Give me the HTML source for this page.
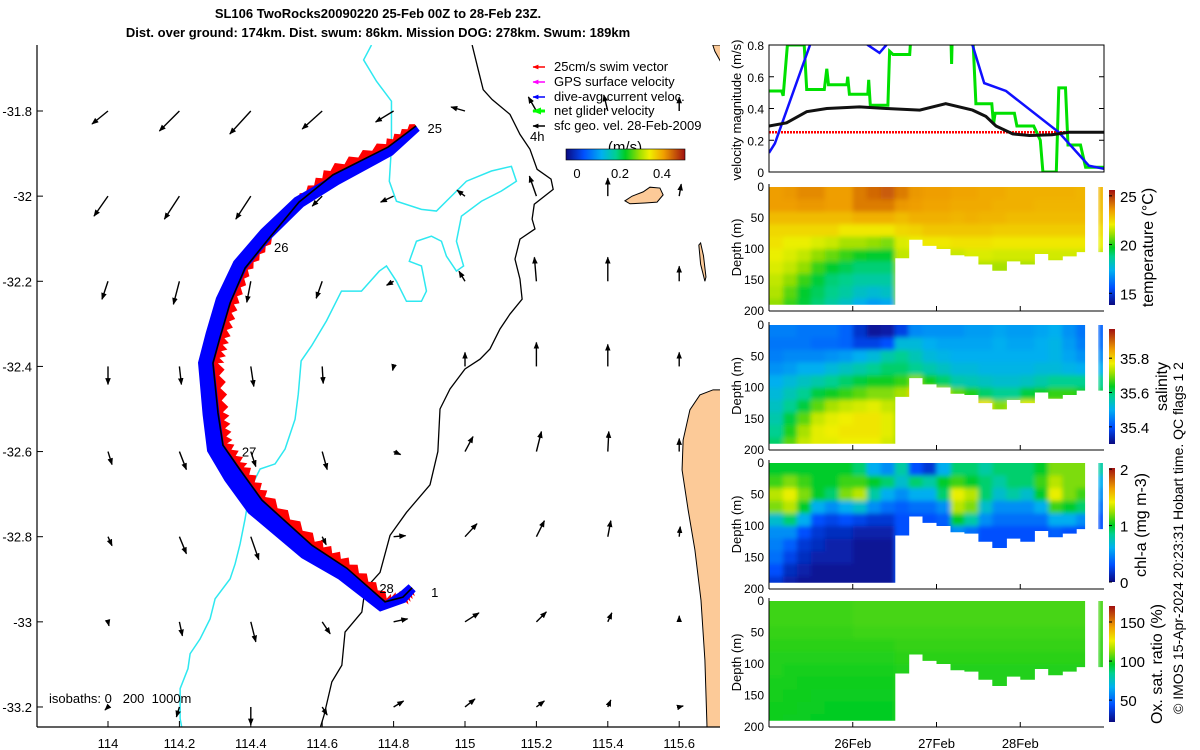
<!DOCTYPE html>
<html><head><meta charset="utf-8"><style>
html,body{margin:0;padding:0;background:#fff}
svg{display:block;font-family:"Liberation Sans",sans-serif}
</style></head><body>
<svg id="c" width="1200" height="750" viewBox="0 0 1200 750" xmlns="http://www.w3.org/2000/svg">
<defs>
<clipPath id="mapclip"><rect x="37" y="45" width="683" height="682"/></clipPath>
<clipPath id="velclip"><rect x="769" y="45" width="335" height="127"/></clipPath>
<filter id="soft" x="-5%" y="-5%" width="110%" height="110%"><feGaussianBlur stdDeviation="2.5"/></filter>
<marker id="ah" viewBox="0 0 10 10" refX="9" refY="5" markerWidth="5" markerHeight="5" orient="auto"><path d="M0,1 L10,5 L0,9 z" fill="#000"/></marker>
<marker id="ahr" viewBox="0 0 10 10" refX="9" refY="5" markerWidth="4" markerHeight="4" orient="auto-start-reverse"><path d="M0,1 L10,5 L0,9 z" fill="red"/></marker>
<marker id="ahm" viewBox="0 0 10 10" refX="9" refY="5" markerWidth="4" markerHeight="4" orient="auto-start-reverse"><path d="M0,1 L10,5 L0,9 z" fill="#f0f"/></marker>
<marker id="ahb" viewBox="0 0 10 10" refX="9" refY="5" markerWidth="4" markerHeight="4" orient="auto-start-reverse"><path d="M0,1 L10,5 L0,9 z" fill="#00f"/></marker>
<marker id="ahg" viewBox="0 0 10 10" refX="9" refY="5" markerWidth="3" markerHeight="3" orient="auto-start-reverse"><path d="M0,1 L10,5 L0,9 z" fill="#0f0"/></marker>
<marker id="ahk" viewBox="0 0 10 10" refX="9" refY="5" markerWidth="4" markerHeight="4" orient="auto-start-reverse"><path d="M0,1 L10,5 L0,9 z" fill="#000"/></marker>
<linearGradient id="cmapH" x1="0" x2="1" y1="0" y2="0">
<stop offset="0" stop-color="#0a0a80"/><stop offset="0.15" stop-color="#0050ff"/><stop offset="0.3" stop-color="#00b0f0"/><stop offset="0.42" stop-color="#00d090"/><stop offset="0.5" stop-color="#00cc22"/><stop offset="0.62" stop-color="#a0e000"/><stop offset="0.7" stop-color="#f0f000"/><stop offset="0.82" stop-color="#f0a000"/><stop offset="1" stop-color="#a01010"/></linearGradient>
<linearGradient id="cmapV" x1="0" x2="0" y1="1" y2="0">
<stop offset="0" stop-color="#0a0a80"/><stop offset="0.15" stop-color="#0050ff"/><stop offset="0.3" stop-color="#00b0f0"/><stop offset="0.42" stop-color="#00d090"/><stop offset="0.5" stop-color="#00cc22"/><stop offset="0.62" stop-color="#a0e000"/><stop offset="0.7" stop-color="#f0f000"/><stop offset="0.82" stop-color="#f0a000"/><stop offset="1" stop-color="#a01010"/></linearGradient>
</defs>

<text x="378" y="18" text-anchor="middle" font-size="13" font-weight="bold">SL106 TwoRocks20090220 25-Feb 00Z to 28-Feb 23Z.</text>
<text x="378" y="37" text-anchor="middle" font-size="13" font-weight="bold">Dist. over ground: 174km. Dist. swum: 86km. Mission DOG: 278km. Swum: 189km</text>

<g id="map" clip-path="url(#mapclip)"></g>
<g id="mapaxes"></g>
<g id="legend">
<line x1="545" y1="67" x2="533" y2="67" stroke="red" stroke-width="1.5" marker-end="url(#ahr)"/>
<text x="554" y="71" font-size="13">25cm/s swim vector</text>
<line x1="545" y1="82" x2="533" y2="82" stroke="#f0f" stroke-width="1.5" marker-end="url(#ahm)"/>
<text x="554" y="86" font-size="13">GPS surface velocity</text>
<line x1="545" y1="97" x2="533" y2="97" stroke="#00f" stroke-width="1.5" marker-end="url(#ahb)"/>
<text x="554" y="101" font-size="13">dive-avg current veloc.</text>
<line x1="545" y1="111" x2="533" y2="111" stroke="#0f0" stroke-width="3" marker-end="url(#ahg)"/>
<text x="554" y="115" font-size="13">net glider velocity</text>
<line x1="545" y1="126" x2="533" y2="126" stroke="#000" stroke-width="1.5" marker-end="url(#ahk)"/>
<text x="554" y="130" font-size="13">sfc geo. vel. 28-Feb-2009</text>
<text x="530" y="141" font-size="13">4h</text>
<text x="625" y="152" font-size="15" text-anchor="middle">(m/s)</text>
<rect x="566" y="149" width="119" height="11" fill="url(#cmapH)" stroke="#000" stroke-width="0.6"/>
<text x="577" y="178" font-size="13" text-anchor="middle">0</text>
<text x="620" y="178" font-size="13" text-anchor="middle">0.2</text>
<text x="662" y="178" font-size="13" text-anchor="middle">0.4</text>
</g>

<g id="vel"></g>
<g id="heat"></g>

<text transform="translate(1183,538) rotate(-90)" text-anchor="middle" font-size="14">© IMOS 15-Apr-2024 20:23:31 Hobart time. QC flags 1  2</text>
</svg>
<script>
// ---------------- DATA ----------------
const gridLons = [114.0,114.2,114.4,114.6,114.8,115.0,115.2,115.4,115.6];
const gridLats = [-31.8,-32.0,-32.2,-32.4,-32.6,-32.8,-33.0,-33.2];
const geoU = [
 [-0.16,-0.20,-0.21,-0.20,-0.18,-0.14,-0.08,-0.04,0.00],
 [-0.14,-0.15,-0.15,-0.10,-0.13,-0.08,-0.07,0.00,0.02],
 [-0.06,-0.06,-0.04,-0.06,-0.07,-0.06,-0.02,0.00,0.00],
 [0.00,0.02,0.03,0.01,-0.01,0.00,0.00,0.00,0.00],
 [0.04,0.07,0.05,0.05,0.07,0.08,0.05,0.01,0.00],
 [0.04,0.07,0.08,0.04,0.12,0.12,0.08,0.03,0.01],
 [0.01,0.03,0.05,0.08,0.14,0.14,0.10,0.04,0.00],
 [-0.03,-0.03,0.00,0.05,0.10,0.10,0.08,0.03,0.04]];
const geoV = [
 [-0.13,-0.20,-0.23,-0.18,-0.11,0.04,0.14,0.16,0.14],
 [-0.20,-0.23,-0.23,-0.10,-0.06,0.06,0.20,0.18,0.12],
 [-0.18,-0.23,-0.21,-0.17,-0.04,0.10,0.24,0.24,0.15],
 [-0.18,-0.18,-0.20,-0.17,-0.04,0.14,0.24,0.22,0.14],
 [-0.13,-0.18,-0.15,-0.18,-0.03,0.15,0.20,0.20,0.13],
 [-0.09,-0.17,-0.23,-0.08,0.01,0.13,0.16,0.16,0.10],
 [-0.04,-0.14,-0.20,-0.12,0.03,0.09,0.10,0.09,0.06],
 [-0.03,-0.10,-0.18,-0.08,0.06,0.08,0.06,0.07,0.01]];
const trackLon = [114.863,114.784,114.630,114.535,114.454,114.384,114.342,114.314,114.294,114.308,114.322,114.370,114.431,114.571,114.669,114.776,114.826,114.852];
const trackLat = [-31.835,-31.885,-31.950,-32.014,-32.096,-32.169,-32.251,-32.331,-32.392,-32.509,-32.585,-32.643,-32.714,-32.820,-32.874,-32.953,-32.942,-32.920];
const dayLabels = ["25","26","27","28","1"];
const dayLabelLon = [114.895,114.465,114.375,114.76,114.905];
const dayLabelLat = [-31.84,-32.12,-32.6,-32.92,-32.93];
const iso200Lon=[114.738,114.716,114.752,114.794,114.794,114.788,114.808,114.878,114.92,114.962,115.004,115.074,115.13,115.144,115.102,115.046,114.99,114.976,114.996,114.976,114.948,114.934,114.906,114.864,114.844,114.878,114.892,114.878,114.836,114.808,114.78,114.76,114.71,114.654,114.612,114.57,114.541,114.533,114.524,114.496,114.468,114.426,114.398,114.384,114.37,114.356,114.342,114.3,114.286,114.258,114.23,114.224,114.202,114.202,114.207];
const iso200Lat=[-31.645,-31.68,-31.73,-31.777,-31.883,-31.965,-32.012,-32.031,-32.035,-32.0,-31.965,-31.941,-31.93,-31.965,-31.988,-32.012,-32.047,-32.106,-32.164,-32.176,-32.141,-32.106,-32.094,-32.106,-32.153,-32.164,-32.223,-32.247,-32.247,-32.2,-32.164,-32.176,-32.223,-32.223,-32.293,-32.352,-32.387,-32.465,-32.524,-32.594,-32.629,-32.641,-32.688,-32.758,-32.817,-32.864,-32.899,-32.946,-32.993,-33.04,-33.075,-33.11,-33.157,-33.227,-33.25];
const iso1000Lon=[115.02,115.037,115.051,115.076,115.126,115.154,115.182,115.202,115.241,115.247,115.194,115.188,115.196,115.154,115.14,115.154,115.16,115.126,115.098,115.07,115.042,115.0,114.958,114.93,114.924,114.902,114.836,114.79,114.762,114.72,114.711,114.664,114.655,114.627,114.605,114.594];
const iso1000Lat=[-31.645,-31.703,-31.75,-31.773,-31.808,-31.855,-31.89,-31.937,-31.96,-31.984,-32.019,-32.054,-32.077,-32.101,-32.148,-32.195,-32.242,-32.277,-32.312,-32.359,-32.383,-32.406,-32.453,-32.5,-32.6,-32.678,-32.743,-32.797,-32.884,-32.923,-32.977,-33.024,-33.102,-33.141,-33.22,-33.25];
const landMainLon=[115.75,115.695,115.658,115.630,115.611,115.608,115.625,115.644,115.661,115.672,115.678,115.75];
const landMainLat=[-32.455,-32.455,-32.467,-32.502,-32.573,-32.643,-32.737,-32.831,-32.949,-33.090,-33.25,-33.25];
const islandLon=[115.448,115.468,115.499,115.518,115.546,115.555,115.538,115.504,115.462];
const islandLat=[-32.011,-32.000,-31.990,-31.979,-31.981,-31.997,-32.014,-32.016,-32.018];
const islandNLon=[115.694,115.70,115.72,115.75,115.75,115.714,115.70];
const islandNLat=[-31.645,-31.66,-31.69,-31.71,-31.645,-31.645,-31.645];
const islandRLon=[115.655,115.66,115.668,115.675,115.672,115.66];
const islandRLat=[-32.115,-32.11,-32.14,-32.19,-32.2,-32.16];
const mapLatTicks=[-31.8,-32,-32.2,-32.4,-32.6,-32.8,-33,-33.2];
const mapLatTickLabels=["-31.8","-32","-32.2","-32.4","-32.6","-32.8","-33","-33.2"];
const mapLonTicks=[114,114.2,114.4,114.6,114.8,115,115.2,115.4,115.6];
const mapLonTickLabels=["114","114.2","114.4","114.6","114.8","115","115.2","115.4","115.6"];

const swimT=[0,4]; const swimV=[0.25,0.25];
const geoT=[0,0.21,0.45,0.69,1.08,1.40,1.80,2.11,2.43,2.59,2.71,2.91,3.11,3.38,3.58,4.0];
const geoVmag=[0.29,0.31,0.38,0.40,0.41,0.40,0.39,0.43,0.39,0.35,0.29,0.24,0.23,0.235,0.25,0.25];
const curT=[0,0.07,0.49,0.8,1.18,1.32,1.40,1.8,2.43,2.57,2.83,3.46,3.82,4.0];
const curV=[0.12,0.18,0.80,1.0,0.8,0.75,0.80,1.0,0.80,0.56,0.51,0.25,0.04,0.02];
const netT=[0,0.15,0.17,0.22,0.42,0.45,0.66,0.69,0.71,0.93,0.94,0.96,1.18,1.19,1.21,1.42,1.44,1.48,1.68,1.70,2.17,2.18,2.19,2.43,2.47,2.66,2.68,2.70,2.93,2.96,3.16,3.24,3.27,3.43,3.46,3.54,3.57,3.72,3.78,4.0];
const netV=[0.51,0.51,0.48,0.80,0.80,0.52,0.52,0.65,0.55,0.55,0.60,0.49,0.49,0.58,0.42,0.42,0.76,0.74,0.74,0.90,0.90,0.68,0.90,0.90,0.43,0.43,0.30,0.37,0.37,0.29,0.29,0.20,0.0,0.0,0.53,0.53,0.17,0.17,0.03,0.03];
const velTicks=[0,0.2,0.4,0.6,0.8];
const velTickLabels=["0","0.2","0.4","0.6","0.8"];

const colStart=[0,0.1667,0.3333,0.5,0.6667,0.8333,1.0,1.1667,1.3333,1.5,1.6667,1.8333,2.0,2.1667,2.3333,2.5,2.6667,2.8333,3.0,3.1667,3.3333,3.5,3.6667,3.93];
const colWidth=[0.1667,0.1667,0.1667,0.1667,0.1667,0.1667,0.1667,0.1667,0.1667,0.1667,0.1667,0.1667,0.1667,0.1667,0.1667,0.1667,0.1667,0.1667,0.1667,0.1667,0.1667,0.1667,0.1,0.05];
const colMaxDepth=[190,190,190,190,190,190,190,190,190,115,85,95,100,110,112,125,135,120,125,108,118,112,105,105];
const depthRows=[0,20,40,60,80,100,120,140,160,180];
const tempGrid=[
[23.5,23.5,23,22.5,22.3,22,21.8,21.5,21.3,21],
[23.6,23.5,23,22.5,22,21.8,21.5,21,20.5,20.2],
[23.8,23.6,23,22.5,22,21.5,21,20.2,19.6,19.5],
[23.8,23.6,23,22.5,21.8,21,20.2,19.5,19.2,19],
[23.5,23.5,23,22.5,21.6,20.6,19.6,19,18.8,18.5],
[23.5,23.5,23,22.2,21.2,20.2,19.3,18.8,18.5,18],
[24,24,23.2,22.2,21.2,19.8,19,18.5,18,17.4],
[24.3,24,23.2,22.2,21,19.6,19,18.5,17.8,17],
[24.5,24,23.2,22.2,20.8,19.6,19,18.5,18,17.2],
[24,23.6,23,22.5,21.8,21.5,21,21,21,21],
[23.6,23.5,23.2,22.6,22,21.6,21,21,21,21],
[23.5,23.4,23.2,22.8,22.2,21.6,21,21,21,21],
[23.5,23.4,23.2,22.8,22.2,21.6,21.2,21,21,21],
[23.4,23.3,23.1,22.8,22.3,21.6,21.2,21,21,21],
[23.4,23.3,23.2,22.8,22.3,21.8,21.3,21,21,21],
[23.3,23.3,23.1,22.8,22.3,21.8,21.3,21,21,21],
[23.3,23.2,23.1,22.7,22.2,21.7,21.2,21,21,21],
[23.2,23.2,23,22.7,22.2,21.7,21.2,21,21,21],
[23.2,23.2,23,22.7,22.2,21.7,21.2,21,21,21],
[23.2,23.1,23,22.7,22.2,21.7,21.2,21,21,21],
[23.2,23.1,23,22.7,22.2,21.7,21.2,21,21,21],
[23.2,23.1,23,22.7,22.2,21.7,21.2,21,21,21],
[23.1,23.1,23,22.7,22.2,21.7,21.2,21,21,21],
[23.1,23,22.8,22.4,22,21.5,21,21,21,21]];
const salGrid=[
[35.45,35.44,35.45,35.47,35.50,35.52,35.54,35.56,35.58,35.60],
[35.45,35.44,35.46,35.48,35.52,35.55,35.58,35.62,35.65,35.68],
[35.44,35.44,35.46,35.50,35.54,35.58,35.62,35.68,35.72,35.74],
[35.44,35.43,35.46,35.50,35.56,35.62,35.68,35.74,35.76,35.76],
[35.44,35.43,35.47,35.52,35.58,35.64,35.72,35.76,35.77,35.76],
[35.42,35.42,35.48,35.54,35.60,35.66,35.74,35.77,35.78,35.77],
[35.36,35.38,35.50,35.56,35.62,35.68,35.75,35.78,35.78,35.77],
[35.32,35.38,35.52,35.58,35.64,35.70,35.76,35.78,35.78,35.77],
[35.33,35.40,35.56,35.60,35.64,35.70,35.74,35.76,35.76,35.75],
[35.38,35.52,35.58,35.60,35.66,35.72,35.72,35.72,35.72,35.72],
[35.46,35.52,35.55,35.58,35.70,35.80,35.8,35.8,35.8,35.8],
[35.47,35.50,35.52,35.56,35.64,35.78,35.8,35.8,35.8,35.8],
[35.47,35.49,35.51,35.54,35.60,35.74,35.8,35.8,35.8,35.8],
[35.47,35.49,35.50,35.52,35.56,35.68,35.82,35.8,35.8,35.8],
[35.48,35.49,35.50,35.52,35.55,35.65,35.80,35.8,35.8,35.8],
[35.48,35.49,35.50,35.51,35.54,35.60,35.78,35.85,35.8,35.8],
[35.49,35.50,35.50,35.51,35.53,35.58,35.70,35.85,35.8,35.8],
[35.48,35.49,35.50,35.51,35.53,35.58,35.72,35.8,35.8,35.8],
[35.48,35.49,35.50,35.51,35.54,35.62,35.76,35.8,35.8,35.8],
[35.49,35.50,35.50,35.52,35.56,35.64,35.74,35.8,35.8,35.8],
[35.50,35.51,35.51,35.52,35.58,35.66,35.72,35.8,35.8,35.8],
[35.47,35.48,35.49,35.51,35.58,35.66,35.70,35.8,35.8,35.8],
[35.44,35.45,35.47,35.50,35.58,35.64,35.70,35.8,35.8,35.8],
[35.42,35.43,35.46,35.50,35.58,35.62,35.7,35.7,35.7,35.7]];
const chlGrid=[
[1.0,1.1,1.3,1.2,0.7,0.5,0.45,0.4,0.3,0.2],
[1.0,1.2,1.4,1.3,0.9,0.5,0.35,0.25,0.15,0.1],
[1.0,1.1,1.2,1.0,0.6,0.3,0.2,0.15,0.1,0.05],
[1.0,1.0,1.0,0.6,0.3,0.2,0.15,0.1,0.05,0.05],
[1.0,1.0,0.9,0.5,0.25,0.15,0.1,0.1,0.05,0.05],
[1.0,1.1,1.2,0.6,0.3,0.15,0.1,0.1,0.05,0.05],
[0.9,1.1,1.3,0.7,0.25,0.1,0.05,0.05,0.05,0.05],
[0.6,1.0,0.8,0.5,0.2,0.1,0.05,0.05,0.05,0.05],
[0.5,0.9,0.6,0.4,0.2,0.1,0.05,0.05,0.05,0.05],
[0.8,0.7,0.5,0.35,0.3,0.3,0.3,0.3,0.3,0.3],
[0.3,0.9,0.6,0.4,0.3,0.3,0.3,0.3,0.3,0.3],
[0.2,0.8,0.6,0.4,0.3,0.3,0.3,0.3,0.3,0.3],
[0.6,1.0,0.9,0.5,0.35,0.3,0.3,0.3,0.3,0.3],
[0.9,1.1,1.4,1.3,1.0,0.5,0.4,0.4,0.4,0.4],
[0.9,1.0,1.3,1.2,0.8,0.4,0.35,0.3,0.3,0.3],
[0.8,0.9,0.9,0.7,0.5,0.3,0.3,0.3,0.3,0.3],
[0.9,0.8,0.7,0.5,0.4,0.3,0.3,0.3,0.3,0.3],
[0.9,0.9,0.8,0.5,0.4,0.3,0.3,0.3,0.3,0.3],
[0.9,0.9,0.7,0.5,0.4,0.3,0.3,0.3,0.3,0.3],
[1.0,1.1,1.0,0.6,0.4,0.3,0.3,0.3,0.3,0.3],
[1.2,1.3,1.4,1.1,0.6,0.35,0.3,0.3,0.3,0.3],
[1.2,1.2,1.2,1.0,0.6,0.3,0.3,0.3,0.3,0.3],
[1.2,1.2,1.1,0.9,0.5,0.3,0.3,0.3,0.3,0.3],
[0.8,0.6,0.5,0.4,0.3,0.3,0.3,0.3,0.3,0.3]];
const oxyGrid=[
[103,103,102,101,100,100,99,99,98,98],[103,103,102,101,100,99,99,98,98,97],[103,103,102,101,100,99,98,98,97,97],
[103,103,102,101,100,99,98,97,97,96],[103,103,102,101,100,99,98,97,96,96],[103,103,102,101,100,99,98,97,96,96],
[104,104,103,101,100,99,98,97,96,96],[104,104,103,101,100,99,98,97,96,96],[104,104,103,101,100,99,98,97,96,96],
[104,104,103,102,101,100,100,100,100,100],[104,104,103,102,101,100,100,100,100,100],[104,104,103,102,101,100,100,100,100,100],
[104,104,103,102,101,100,100,100,100,100],[104,104,103,102,101,100,100,100,100,100],[104,104,103,102,101,100,100,100,100,100],
[104,104,103,102,101,100,100,100,100,100],[104,104,103,102,101,100,100,100,100,100],[104,104,103,102,101,100,100,100,100,100],
[104,104,103,102,101,100,100,100,100,100],[104,104,103,102,101,100,100,100,100,100],[104,104,103,102,101,100,100,100,100,100],
[104,104,103,102,101,100,100,100,100,100],[104,104,103,102,101,100,100,100,100,100],[104,104,103,102,101,100,100,100,100,100]];
const depthTicks=[0,50,100,150,200];
const depthTickLabels=["0","50","100","150","200"];
const dateTicks=[1,2,3];
const dateTickLabels=["26Feb","27Feb","28Feb"];
const tempCbTicks=[15,20,25]; const salCbTicks=[35.4,35.6,35.8]; const chlCbTicks=[0,1,2]; const oxyCbTicks=[50,100,150];

// ---------------- DRAW ----------------
const NS="http://www.w3.org/2000/svg";
function mk(tag,attrs,parent){const e=document.createElementNS(NS,tag);for(const k in attrs)e.setAttribute(k,attrs[k]);parent.appendChild(e);return e;}
const lonX=lon=>108+(lon-114)*357;
const latY=lat=>111+(-31.8-lat)*425.7;
const stops=[[0,[10,10,128]],[0.15,[0,80,255]],[0.3,[0,176,240]],[0.42,[0,208,144]],[0.5,[0,204,34]],[0.62,[160,224,0]],[0.7,[240,240,0]],[0.82,[240,160,0]],[1,[160,16,16]]];
function cmap(t){t=Math.max(0,Math.min(1,t));for(let i=1;i<stops.length;i++){if(t<=stops[i][0]){const a=stops[i-1],b=stops[i];const f=(t-a[0])/(b[0]-a[0]);const c=a[1].map((v,k)=>Math.round(v+(b[1][k]-v)*f));return `rgb(${c[0]},${c[1]},${c[2]})`;}}return "rgb(160,16,16)";}

const map=document.getElementById('map');
[[landMainLon,landMainLat,'land-mainland'],[islandLon,islandLat,'land-island'],[islandNLon,islandNLat,'land-island-north'],[islandRLon,islandRLat,'land-island-reef']].forEach(([lo,la,nm])=>{
 const p=mk('polygon',{points:lo.map((v,i)=>lonX(v)+','+latY(la[i])).join(' '),fill:'#fcca98',stroke:'#000','stroke-width':1},map);
 
 
});
const i2=mk('polyline',{points:iso200Lon.map((v,i)=>lonX(v)+','+latY(iso200Lat[i])).join(' '),fill:'none',stroke:'#2ee8f0','stroke-width':1.5},map);


const i1=mk('polyline',{points:iso1000Lon.map((v,i)=>lonX(v)+','+latY(iso1000Lat[i])).join(' '),fill:'none',stroke:'#000','stroke-width':1.3},map);


const SC=100;
gridLats.forEach((la,r)=>gridLons.forEach((lo,c)=>{
 const x=lonX(lo),y=latY(la);const dx=geoU[r][c]*SC,dy=-geoV[r][c]*SC;
 if(Math.hypot(dx,dy)<1)return;
 const a=mk('line',{x1:x,y1:y,x2:x+dx,y2:y+dy,stroke:'#000','stroke-width':1.4,'marker-end':'url(#ah)'},map);
 
 
}));
const TP=trackLon.map((v,i)=>[lonX(v),latY(trackLat[i])]);
const norms=TP.map((p,i)=>{const a=TP[Math.max(0,i-1)],b=TP[Math.min(TP.length-1,i+1)];const dx=b[0]-a[0],dy=b[1]-a[1];const L=Math.hypot(dx,dy)||1;return [-dy/L,dx/L];});
const blueOff=[-3,-5,-6,0,5,6,7,7,7,7,8,9,9,8,7,5,0,0];
const blueW=[6,9,11,13,14,15,16,16,16,17,18,20,20,17,14,12,12,10];
const redSide=[1,1,1,1,-1,-1,-1,-1,-1,-1,-1,-1,-1,-1,-1,-1,1,1];
const redW=[5,8,10,6,5,7,9,10,11,11,10,10,10,10,10,8,10,8];
function blueBand(){
 const L=[],R=[];
 TP.forEach((p,i)=>{const n=norms[i];L.push([p[0]+n[0]*(blueOff[i]+blueW[i]/2),p[1]+n[1]*(blueOff[i]+blueW[i]/2)]);R.push([p[0]+n[0]*(blueOff[i]-blueW[i]/2),p[1]+n[1]*(blueOff[i]-blueW[i]/2)]);});
 const pts=L.concat(R.reverse());
 const e=mk('polygon',{points:pts.map(p=>p[0].toFixed(1)+','+p[1].toFixed(1)).join(' '),fill:'#0000ff'},map);
 
 
}
function redBand(){
 let pts=[];
 for(let i=0;i<TP.length-1;i++){
  const A=TP[i],B=TP[i+1],n=norms[i],s=redSide[i];
  for(let k=0;k<8;k++){const f=k/8;const w=redW[i]+(redW[i+1]-redW[i])*f;const j=(k%2)?w:w*0.45;
   pts.push([A[0]+(B[0]-A[0])*f+n[0]*j*s,A[1]+(B[1]-A[1])*f+n[1]*j*s]);}
 }
 pts=pts.concat(TP.slice().reverse());
 const e=mk('polygon',{points:pts.map(p=>p[0].toFixed(1)+','+p[1].toFixed(1)).join(' '),fill:'#ff0000'},map);
 
 
}
redBand();
blueBand();
const tl=mk('polyline',{points:TP.map(p=>p.join(',')).join(' '),fill:'none',stroke:'#000','stroke-width':1.6},map);


dayLabels.forEach((d,i)=>{const t=mk('text',{x:lonX(dayLabelLon[i]),y:latY(dayLabelLat[i])+5,'font-size':13},map);t.textContent=d;
 
 });
const iso=mk('text',{x:49,y:703,'font-size':13,style:'white-space:pre'},map);iso.textContent='isobaths: 0   200  1000m';



const ma=document.getElementById('mapaxes');
mk('line',{x1:37,y1:45,x2:37,y2:727,stroke:'#000','stroke-width':1.2},ma);
mk('line',{x1:37,y1:727,x2:720,y2:727,stroke:'#000','stroke-width':1.2},ma);
mapLatTicks.forEach((v,i)=>{const y=latY(v);mk('line',{x1:37,y1:y,x2:43,y2:y,stroke:'#000'},ma);
 const t=mk('text',{x:32,y:y+5,'text-anchor':'end','font-size':13},ma);t.textContent=mapLatTickLabels[i];
 
 });
mapLonTicks.forEach((v,i)=>{const x=lonX(v);mk('line',{x1:x,y1:727,x2:x,y2:721,stroke:'#000'},ma);
 const t=mk('text',{x:x,y:748,'text-anchor':'middle','font-size':13},ma);t.textContent=mapLonTickLabels[i];
 
 });

const X0=769,X1=1104;
const tx=d=>X0+d*(X1-X0)/4;
const vel=document.getElementById('vel');
const vy=v=>172-v*158.75;
const vg=mk('g',{'clip-path':'url(#velclip)'},vel);
function series(T,V,col,w,nm,dash){const e=mk('polyline',{points:T.map((t,i)=>tx(t).toFixed(1)+','+vy(V[i]).toFixed(1)).join(' '),fill:'none',stroke:col,'stroke-width':w},vg);if(dash)e.setAttribute('stroke-dasharray',dash);
 
 }
series(swimT,swimV,'#ff0000',2.5,'swim-speed-line','2 1');
series(netT,netV,'#00e000',3,'net-glider-velocity-line');
series(curT,curV,'#1010ff',2.5,'current-velocity-line');
series(geoT,geoVmag,'#111',3,'geo-velocity-line');
mk('rect',{x:X0,y:45,width:X1-X0,height:127,fill:'none',stroke:'#000','stroke-width':1},vel);
velTicks.forEach((v,i)=>{const y=vy(v);mk('line',{x1:X0,y1:y,x2:X0+5,y2:y,stroke:'#000'},vel);mk('line',{x1:X1,y1:y,x2:X1-5,y2:y,stroke:'#000'},vel);
 const t=mk('text',{x:764,y:y+5,'text-anchor':'end','font-size':12},vel);t.textContent=velTickLabels[i];
 
 });
const vl=mk('text',{transform:'translate(741,110) rotate(-90)','text-anchor':'middle','font-size':13},vel);vl.textContent='velocity magnitude (m/s)';



const heat=document.getElementById('heat');
const defs=document.querySelector('defs');
const panels=[
 {grid:tempGrid,top:184,bot:311,vmin:13.8,vmax:25.6,cbTop:190,cbBot:305,ticks:tempCbTicks,labels:["15","20","25"],title:'temperature (°C)',tx:1153,name:'temperature'},
 {grid:salGrid,top:322,bot:450,vmin:35.30,vmax:35.97,cbTop:329,cbBot:444,ticks:salCbTicks,labels:["35.4","35.6","35.8"],title:'salinity',tx:1167,name:'salinity'},
 {grid:chlGrid,top:460,bot:589,vmin:0,vmax:2.02,cbTop:468,cbBot:582,ticks:chlCbTicks,labels:["0","1","2"],title:'chl-a (mg m-3)',tx:1146,name:'chlorophyll'},
 {grid:oxyGrid,top:598,bot:727,vmin:22,vmax:170.5,cbTop:606,cbBot:722,ticks:oxyCbTicks,labels:["50","100","150"],title:'Ox. sat. ratio (%)',tx:1162,name:'oxygen'}];
panels.forEach((P,pi)=>{
 const g=mk('g',{},heat);
 
 
 const dy=d=>P.top+3+d*(P.bot-P.top-3)/200;
 // mask of sampled region
 const cp=mk('clipPath',{id:'mask'+pi},defs);
 colStart.forEach((cs,i)=>{const x=tx(cs),w=tx(cs+colWidth[i])-x;
  mk('rect',{x:x.toFixed(1),y:dy(0).toFixed(1),width:(w+0.6).toFixed(1),height:(dy(colMaxDepth[i])-dy(0)).toFixed(1)},cp);});
 const outer=mk('g',{'clip-path':`url(#mask${pi})`},g);
 const inner=mk('g',{filter:'url(#soft)'},outer);
 colStart.forEach((cs,i)=>{
  depthRows.forEach((d0,j)=>{
   let x=tx(cs),w=tx(cs+colWidth[i])-x;
   let y=dy(d0),h=dy(d0+20)-y;
   if(i===0){x-=8;w+=8;}
   if(i===colStart.length-1){w+=8;}
   if(i===colStart.length-2){w+=6;}
   if(j===0){y-=8;h+=8;}
   if(j===depthRows.length-1){h+=8;}
   const r=mk('rect',{x:x.toFixed(1),y:y.toFixed(1),width:(w+0.6).toFixed(1),height:(h+0.6).toFixed(1),fill:cmap((P.grid[i][j]-P.vmin)/(P.vmax-P.vmin))},inner);
   
   
  });
 });
 mk('line',{x1:X0,y1:P.top,x2:X0,y2:P.bot,stroke:'#000','stroke-width':1},g);
 mk('line',{x1:X0,y1:P.bot,x2:X1,y2:P.bot,stroke:'#000','stroke-width':1},g);
 depthTicks.forEach((d,i)=>{const y=P.top+3+d*(P.bot-P.top-3)/200;
  const t=mk('text',{x:764,y:Math.min(y+4,P.bot+4),'text-anchor':'end','font-size':12},g);t.textContent=depthTickLabels[i];
  
  });
 dateTicks.forEach((d,i)=>{mk('line',{x1:tx(d),y1:P.bot,x2:tx(d),y2:P.bot-5,stroke:'#000'},g);
  if(pi===3){const t=mk('text',{x:tx(d),y:748,'text-anchor':'middle','font-size':13},g);t.textContent=dateTickLabels[i];
   
   }});
 const dl=mk('text',{transform:`translate(741,${(P.top+P.bot)/2}) rotate(-90)`,'text-anchor':'middle','font-size':13},g);dl.textContent='Depth (m)';
 
 
 const cb=mk('rect',{x:1109,y:P.cbTop,width:6,height:P.cbBot-P.cbTop,fill:'url(#cmapV)'},g);
 
 
 P.ticks.forEach((v,i)=>{const y=P.cbBot-(v-P.vmin)/(P.vmax-P.vmin)*(P.cbBot-P.cbTop);
  mk('line',{x1:1109,y1:y,x2:1112,y2:y,stroke:'#000'},g);
  const t=mk('text',{x:1120,y:y+6,'font-size':15},g);t.textContent=P.labels[i];
  
  });
 const ct=mk('text',{transform:`translate(${P.tx},${(P.cbTop+P.cbBot)/2}) rotate(-90)`,'text-anchor':'middle','font-size':16},g);ct.textContent=P.title;
 
 
});
</script>
</body></html>
